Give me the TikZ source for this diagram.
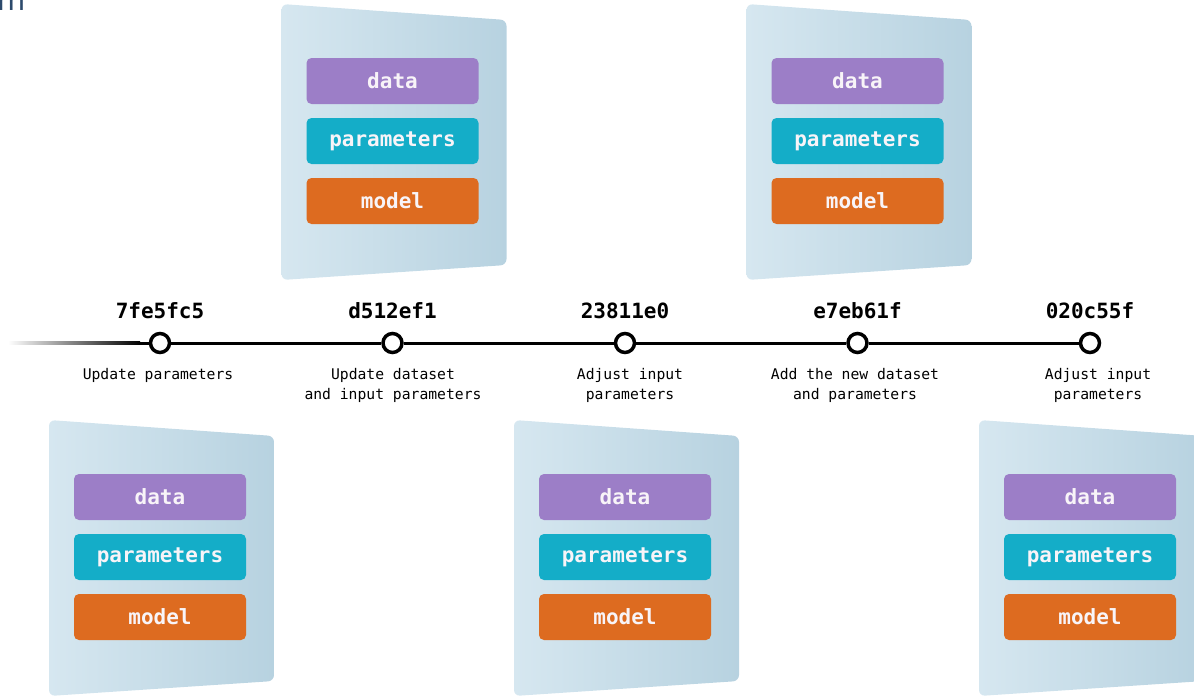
\documentclass[tikz,border=0pt]{standalone}
\usepackage{fontspec}
\setmonofont{DejaVu Sans Mono}
\setsansfont{DejaVu Sans}
\definecolor{panelL}{HTML}{D6E7F0}
\definecolor{panelR}{HTML}{B7D2E0}
\definecolor{datac}{HTML}{9C7EC7}
\definecolor{paramc}{HTML}{14ADC8}
\definecolor{modelc}{HTML}{DD6B20}
\definecolor{titlec}{HTML}{2C4A6C}
\definecolor{labelc}{HTML}{F8F4F8}
\tikzset{
  commit/.style={circle, draw=black, line width=3.5pt, fill=white, minimum size=19pt, inner sep=0pt},
  hashlabel/.style={anchor=base, inner sep=0pt, font=\ttfamily\bfseries\fontsize{21}{21}\selectfont},
  desclabel/.style={anchor=north, inner sep=0pt, align=center, font=\ttfamily\fontsize{14.7}{20}\selectfont},
  layer/.style={rounded corners=5pt, minimum width=172pt, minimum height=46pt, inner sep=0pt,
    text=labelc, font=\ttfamily\bfseries\fontsize{21}{21}\selectfont},
  timeline/.style={line width=3pt, draw=black}
}
\newcommand\mlpanel[3]{%
  \shade[left color=panelL, right color=panelR, rounded corners=6pt]
    (#1,#2) -- ++(225,16) -- ++(0,245) -- ++(-225,15) -- cycle;
  \node[layer, fill=datac]   (#3d) at (#1+111,#2+77)  {data};
  \node[layer, fill=paramc]  (#3p) at (#1+111,#2+137) {parameters};
  \node[layer, fill=modelc]  (#3m) at (#1+111,#2+197) {model};
}
\begin{document}
\begin{tikzpicture}[x=1pt,y=-1pt]
\useasboundingbox (0,0) rectangle (1194,696);
\clip (0,0) rectangle (1194,696);

% cropped title glyph
\node[anchor=base west, inner sep=0pt, text=titlec, font=\sffamily\fontsize{29}{29}\selectfont] (title) at (-3,10) {m};

% panels
\mlpanel{281.5}{4}{pB}
\mlpanel{746.5}{4}{pD}
\mlpanel{49}{420}{pA}
\mlpanel{514}{420}{pC}
\mlpanel{979}{420}{pE}

% commits
\node[commit] (c1) at (160,343) {};
\node[commit] (c2) at (392.5,343) {};
\node[commit] (c3) at (625,343) {};
\node[commit] (c4) at (857.5,343) {};
\node[commit] (c5) at (1090,343) {};

\coordinate (tail) at (8,343);
\coordinate (tailend) at (140,343);
\shade[left color=white, right color=black] (8,341.5) rectangle (140,344.5);
\draw[timeline] (tailend) -- (c1);
\draw[timeline] (c1) -- (c2);
\draw[timeline] (c2) -- (c3);
\draw[timeline] (c3) -- (c4);
\draw[timeline] (c4) -- (c5);

% hashes
\node[hashlabel] (h1) at (160,318) {7fe5fc5};
\node[hashlabel] (h2) at (392.5,318) {d512ef1};
\node[hashlabel] (h3) at (625,318) {23811e0};
\node[hashlabel] (h4) at (857.5,318) {e7eb61f};
\node[hashlabel] (h5) at (1090,318) {020c55f};

% descriptions
\node[desclabel] (d1) at (158,368) {Update parameters};
\node[desclabel] (d2) at (393,368) {Update dataset\\and input parameters};
\node[desclabel] (d3) at (630,368) {Adjust input\\parameters};
\node[desclabel] (d4) at (855,368) {Add the new dataset\\and parameters};
\node[desclabel] (d5) at (1098,368) {Adjust input\\parameters};
\end{tikzpicture}
\end{document}
